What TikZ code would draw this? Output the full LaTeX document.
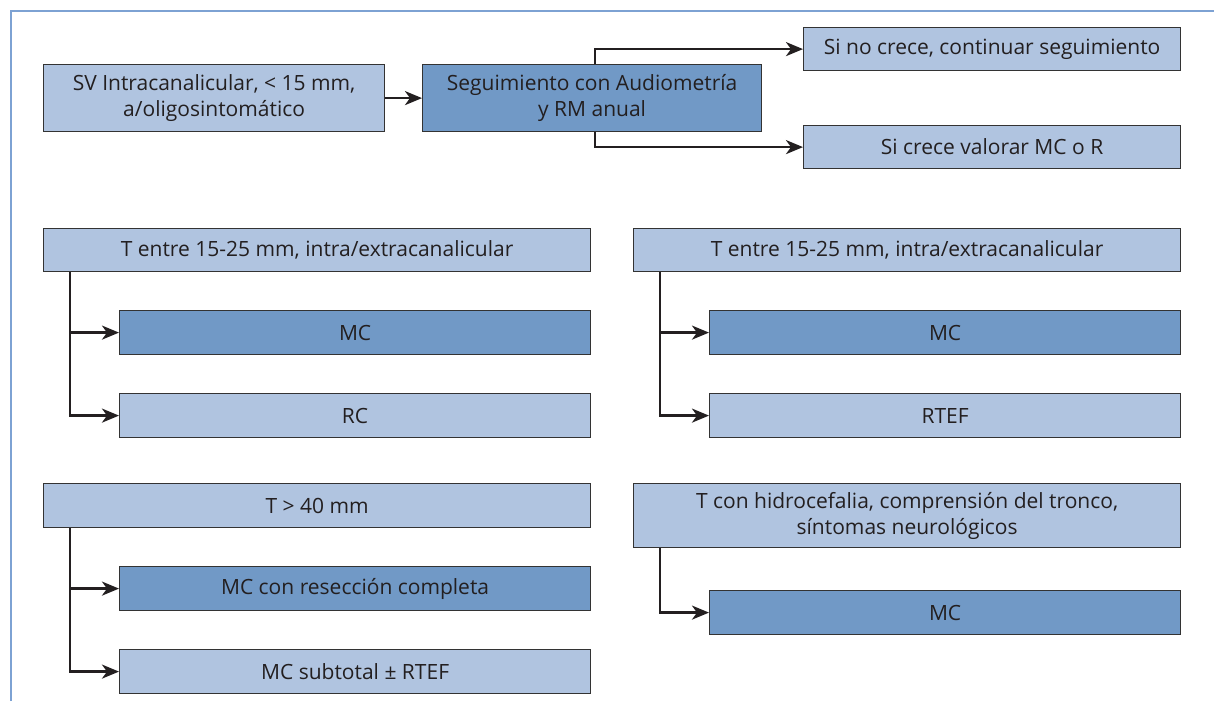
\documentclass[tikz,border=0pt]{standalone}
\usepackage{fontspec}
\setmainfont{Open Sans}
\usetikzlibrary{arrows.meta}
\definecolor{lightfill}{HTML}{B0C4E0}
\definecolor{darkfill}{HTML}{7199C6}
\definecolor{edgecol}{HTML}{333333}
\definecolor{framecol}{HTML}{7DA2D3}
\definecolor{inkcol}{HTML}{231F20}
\tikzset{
  box/.style={draw=edgecol, line width=1.2pt, inner sep=0pt, align=center,
    anchor=north west, text=inkcol,
    font=\fontsize{21}{26}\selectfont},
  lightbox/.style={box, fill=lightfill},
  darkbox/.style={box, fill=darkfill},
  arr/.style={draw=inkcol, line width=2.5pt,
    -{Stealth[length=17pt,width=14pt,inset=5pt]}},
  frameline/.style={draw=framecol, line width=2pt}
}
\begin{document}
\begin{tikzpicture}[x=1pt,y=-1pt]
\useasboundingbox[fill=white] (0,0) rectangle (1214,701);
% outer frame (top and left edges)
\draw[frameline] (11,701) -- (11,11) -- (1214,11);

% top row
\node[lightbox, minimum width=341, minimum height=67] (sv) at (43,64)
  {SV Intracanalicular, < 15 mm,\\a/oligosintomático};
\node[darkbox, minimum width=339, minimum height=67] (seg) at (422,64)
  {Seguimiento con Audiometría\\y RM anual};
\node[lightbox, minimum width=377, minimum height=43] (nocrece) at (803,27)
  {Si no crece, continuar seguimiento};
\node[lightbox, minimum width=377, minimum height=43] (crece) at (803,125)
  {Si crece valorar MC o R};
\draw[arr] (sv) -- (seg);
\draw[arr] ([xshift=3]seg.north) |- (nocrece.west);
\draw[arr] ([xshift=3]seg.south) |- (crece.west);

% middle left
\node[lightbox, minimum width=547, minimum height=43] (ta) at (43,228)
  {T entre 15-25 mm, intra/extracanalicular};
\node[darkbox, minimum width=471, minimum height=44] (mca) at (119,310)
  {MC};
\node[lightbox, minimum width=471, minimum height=44] (rc) at (119,393)
  {RC};
\draw[arr] ([xshift=27]ta.south west) |- (mca.west);
\draw[arr] ([xshift=27]ta.south west) |- (rc.west);

% middle right
\node[lightbox, minimum width=547, minimum height=43] (tb) at (633,228)
  {T entre 15-25 mm, intra/extracanalicular};
\node[darkbox, minimum width=471, minimum height=44] (mcb) at (709,310)
  {MC};
\node[lightbox, minimum width=471, minimum height=44] (rtef) at (709,393)
  {RTEF};
\draw[arr] ([xshift=27]tb.south west) |- (mcb.west);
\draw[arr] ([xshift=27]tb.south west) |- (rtef.west);

% bottom left
\node[lightbox, minimum width=547, minimum height=44] (tc) at (43,483)
  {T > 40 mm};
\node[darkbox, minimum width=471, minimum height=44] (mcr) at (119,566)
  {MC con resección completa};
\node[lightbox, minimum width=471, minimum height=44] (mcs) at (119,649)
  {MC subtotal ± RTEF};
\draw[arr] ([xshift=27]tc.south west) |- (mcr.west);
\draw[arr] ([xshift=27]tc.south west) |- (mcs.west);

% bottom right
\node[lightbox, minimum width=547, minimum height=64] (td) at (633,483)
  {T con hidrocefalia, comprensión del tronco,\\síntomas neurológicos};
\node[darkbox, minimum width=471, minimum height=44] (mcd) at (709,590)
  {MC};
\draw[arr] ([xshift=27]td.south west) |- (mcd.west);
\end{tikzpicture}
\end{document}
